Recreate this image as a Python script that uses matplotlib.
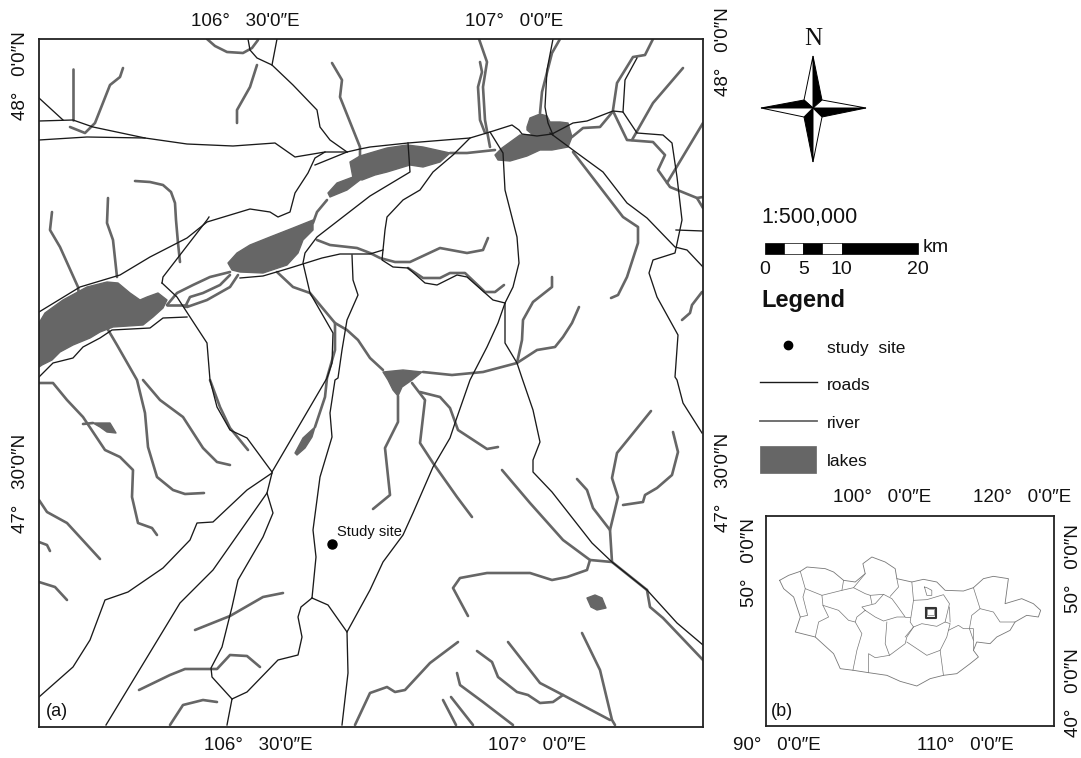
import matplotlib
matplotlib.use("Agg")
import matplotlib.pyplot as plt
from matplotlib.patches import Polygon, Rectangle

plt.rcParams['font.family'] = ['Liberation Sans', 'DejaVu Sans']

roads = [
    [(248, 39), (250, 50), (257, 58), (272, 65), (293, 85), (317, 110), (320, 127), (330, 140), (347, 152)],
    [(277, 39), (272, 65)],
    [(39, 98), (63, 120)],
    [(39, 121), (73, 120), (93, 127), (145, 138), (187, 144), (233, 146), (275, 143), (295, 157), (325, 152),
     (347, 152), (360, 149), (370, 147), (408, 143), (470, 138), (490, 132), (512, 125), (519, 130), (522, 134),
     (537, 136), (552, 134), (573, 123), (587, 121), (613, 111), (623, 112), (637, 133), (663, 135), (672, 143),
     (677, 177), (682, 220), (675, 253), (653, 260), (649, 273), (657, 297), (678, 335), (675, 377), (677, 380),
     (683, 403), (702, 433)],
    [(39, 140), (87, 137), (145, 138)],
    [(550, 133), (577, 153), (603, 172), (627, 203), (647, 218), (675, 247), (687, 250), (703, 267)],
    [(553, 39), (547, 70), (545, 107), (548, 123), (553, 135)],
    [(490, 132), (503, 153), (505, 190), (517, 237), (519, 263), (513, 287), (505, 303), (505, 343), (517, 363),
     (522, 378), (533, 410), (540, 442), (533, 460), (533, 472), (552, 492), (592, 543), (612, 562), (647, 590),
     (677, 623), (703, 645)],
    [(408, 143), (410, 172), (370, 196), (317, 237), (305, 253), (303, 263), (310, 293), (333, 333), (332, 363),
     (327, 378), (272, 472)],
    [(352, 255), (353, 280), (358, 295), (347, 320), (342, 350), (338, 378), (335, 380), (330, 413), (332, 437),
     (320, 477), (313, 530), (316, 557), (312, 598)],
    [(240, 278), (263, 276), (290, 268), (322, 258), (340, 254), (370, 254), (383, 250), (385, 230), (387, 217),
     (403, 200), (420, 190), (433, 172), (453, 155), (470, 138)],
    [(383, 250), (382, 260), (393, 267), (408, 268), (425, 283), (437, 285), (457, 275), (467, 277), (493, 300),
     (505, 303)],
    [(505, 303), (498, 323), (487, 347), (470, 380), (455, 423), (450, 438), (433, 467), (413, 513), (403, 535),
     (383, 562), (370, 590), (347, 632)],
    [(312, 598), (328, 605), (347, 632), (348, 673), (342, 725)],
    [(312, 598), (301, 607), (298, 617), (302, 637), (298, 655), (278, 660), (247, 692), (232, 699)],
    [(232, 699), (212, 677), (211, 668), (222, 647), (232, 607), (238, 580), (263, 537), (273, 513), (267, 493),
     (272, 473)],
    [(232, 699), (227, 725)],
    [(106, 725), (180, 603), (213, 570), (267, 493)],
    [(39, 697), (73, 667), (90, 640), (105, 600), (128, 592), (163, 568), (190, 540), (197, 523), (213, 522),
     (247, 490), (272, 473)],
    [(39, 377), (53, 363), (73, 358), (83, 347), (100, 338), (112, 330), (150, 328), (163, 318), (187, 317)],
    [(162, 283), (177, 297), (190, 317), (207, 343), (210, 380), (217, 407), (230, 430), (247, 438), (272, 472)],
    [(162, 283), (163, 277), (207, 220), (209, 217)],
    [(39, 312), (80, 287), (120, 275), (150, 257), (187, 238), (207, 222), (250, 209), (270, 212), (278, 217),
     (290, 212), (295, 193), (308, 173), (315, 158), (325, 152)],
    [(315, 165), (347, 152)],
    [(676, 230), (703, 231)],
    [(637, 58), (625, 80), (623, 112)],
]

rivers = [
    [(73, 69), (73, 120)],
    [(123, 68), (120, 77), (110, 85), (95, 123), (85, 133), (70, 127)],
    [(207, 39), (215, 46), (227, 52), (243, 53), (252, 48), (258, 40)],
    [(257, 65), (250, 87), (237, 110), (237, 123)],
    [(332, 63), (342, 80), (340, 97), (360, 147), (360, 157)],
    [(135, 181), (150, 182), (163, 185), (171, 192), (175, 203), (176, 220), (178, 243), (180, 262)],
    [(108, 198), (107, 223), (113, 240), (117, 277)],
    [(52, 212), (50, 230), (60, 247), (78, 287), (79, 295)],
    [(107, 328), (117, 345), (133, 373), (137, 380), (145, 413), (148, 447), (157, 477), (173, 490), (185, 494),
     (204, 493)],
    [(143, 380), (160, 400), (183, 417), (203, 448), (217, 462), (230, 465)],
    [(167, 305), (177, 293), (193, 285), (210, 277), (230, 272)],
    [(185, 307), (190, 297), (203, 293), (220, 285), (230, 275)],
    [(187, 307), (207, 300), (230, 287), (238, 275)],
    [(167, 305), (187, 305)],
    [(313, 223), (317, 212), (327, 200)],
    [(277, 272), (293, 287), (310, 293), (335, 323), (347, 330), (358, 340), (370, 358), (383, 370)],
    [(335, 323), (335, 350), (327, 378), (325, 397), (315, 427)],
    [(317, 240), (330, 245), (357, 248), (370, 253), (380, 258), (395, 262), (410, 262), (440, 248), (467, 253),
     (483, 250), (488, 238)],
    [(408, 268), (423, 278), (440, 278), (450, 273), (465, 273), (485, 292), (495, 292), (504, 285)],
    [(450, 153), (467, 153), (495, 150)],
    [(479, 39), (487, 62), (483, 87), (485, 120), (490, 147)],
    [(480, 62), (482, 72), (478, 87), (480, 120), (485, 133)],
    [(560, 39), (552, 53), (542, 92), (540, 113)],
    [(572, 137), (583, 128), (600, 127), (610, 115), (613, 111), (627, 140), (653, 142), (665, 155), (658, 170),
     (670, 187), (697, 198), (703, 197)],
    [(653, 39), (645, 55), (633, 57), (617, 83), (613, 110)],
    [(683, 68), (653, 103), (632, 140)],
    [(703, 123), (667, 183)],
    [(697, 198), (703, 208)],
    [(573, 152), (623, 217), (638, 227), (638, 243), (627, 277), (618, 295), (611, 298)],
    [(552, 277), (552, 287), (533, 302), (523, 320), (522, 340), (517, 363)],
    [(579, 307), (572, 323), (563, 337), (555, 347), (537, 350), (517, 363), (483, 372), (452, 375), (423, 372)],
    [(702, 292), (692, 305), (690, 313), (682, 320)],
    [(39, 383), (53, 383), (67, 400), (83, 417), (105, 450), (120, 457), (133, 470), (132, 497), (138, 523),
     (152, 528), (157, 535)],
    [(39, 500), (47, 512), (67, 523), (100, 559)],
    [(39, 542), (47, 545), (50, 551)],
    [(39, 582), (55, 587), (67, 600)],
    [(210, 380), (220, 407), (230, 428), (248, 450)],
    [(93, 423), (83, 424)],
    [(195, 630), (230, 616), (263, 597), (283, 593)],
    [(139, 690), (170, 675), (185, 669), (217, 669), (230, 655), (247, 656), (260, 667)],
    [(170, 725), (183, 705), (203, 700), (217, 702)],
    [(355, 725), (370, 693), (387, 687), (395, 692), (405, 690), (430, 663), (458, 642)],
    [(398, 396), (398, 422), (385, 448), (390, 495), (373, 509)],
    [(412, 383), (425, 400), (420, 443), (433, 463), (457, 497), (472, 517)],
    [(420, 392), (440, 397), (450, 408), (458, 430), (487, 449), (498, 447)],
    [(502, 470), (530, 503), (563, 540), (590, 560), (612, 562), (647, 590)],
    [(590, 560), (587, 570), (567, 577), (552, 580), (530, 573), (487, 573), (460, 578), (453, 588), (468, 616)],
    [(612, 562), (610, 530), (618, 497), (612, 478), (617, 453), (630, 437), (651, 411)],
    [(610, 530), (593, 508), (587, 490), (577, 479)],
    [(673, 432), (678, 452), (672, 475), (657, 488), (645, 495), (643, 502), (623, 505)],
    [(647, 590), (650, 607), (663, 618), (703, 660)],
    [(582, 633), (600, 670), (612, 720), (615, 725)],
    [(508, 642), (540, 683), (563, 695), (610, 720)],
    [(477, 651), (492, 662), (498, 677), (517, 692), (528, 695), (540, 703), (553, 702), (563, 695)],
    [(457, 673), (460, 685), (483, 702), (513, 725)],
    [(451, 697), (473, 725)],
    [(443, 700), (456, 725)],
]

lakes = [
    [(39, 323), (45, 313), (63, 300), (87, 287), (107, 282), (118, 283), (130, 293), (140, 300), (147, 297),
     (158, 293), (167, 300), (163, 308), (153, 317), (143, 325), (113, 327), (100, 332), (90, 338), (73, 345),
     (60, 352), (52, 360), (42, 365), (39, 367)],
    [(228, 263), (237, 253), (250, 245), (270, 237), (293, 228), (313, 220), (313, 230), (303, 240), (298, 253),
     (287, 265), (263, 273), (240, 272), (232, 270)],
    [(350, 162), (360, 156), (370, 153), (387, 148), (407, 145), (423, 147), (450, 153), (440, 162), (423, 167),
     (410, 165), (387, 172), (375, 175), (362, 180), (353, 178)],
    [(328, 193), (337, 183), (353, 177), (360, 180), (347, 190), (330, 197)],
    [(527, 127), (530, 118), (540, 114), (547, 116), (550, 122), (560, 122), (568, 123), (572, 137), (568, 147),
     (552, 150), (540, 150), (527, 156), (510, 161), (498, 160), (495, 155), (502, 148), (520, 135), (533, 135),
     (527, 130)],
    [(383, 372), (403, 370), (422, 372), (412, 380), (402, 387), (398, 396), (393, 390), (388, 380)],
    [(93, 423), (110, 423), (116, 433), (107, 432), (100, 427)],
    [(295, 453), (303, 438), (315, 427), (312, 437), (305, 448), (297, 455)],
    [(587, 598), (595, 595), (602, 598), (606, 608), (597, 610), (591, 607)],
]

study_site = (332, 544)

# Inset map of Mongolia, traced in its own units
mongolia_outline = [
    (88, 240), (115, 225), (150, 213), (170, 200), (225, 205), (250, 215), (280, 240), (315, 245), (345, 220),
    (338, 190), (365, 170), (405, 185), (435, 205), (440, 235), (485, 245), (520, 237), (560, 245), (585, 270),
    (640, 272), (670, 262), (700, 235), (730, 228), (775, 235), (765, 310), (815, 295), (850, 310), (872, 330),
    (865, 350), (830, 345), (795, 365), (780, 390), (740, 410), (720, 430), (680, 425), (670, 450), (685, 470),
    (660, 490), (620, 520), (580, 525), (540, 535), (500, 557), (450, 543), (410, 525), (355, 517), (310, 510),
    (270, 505), (250, 460), (195, 410), (135, 395), (150, 350), (130, 290), (100, 265), (88, 240),
]
province_lines = [
    [(150, 213), (165, 265), (158, 290), (172, 345), (150, 350)],
    [(165, 265), (215, 285), (275, 270), (280, 240)],
    [(215, 285), (218, 315), (235, 350), (205, 365), (195, 410)],
    [(218, 315), (265, 330), (295, 360), (315, 365), (335, 400), (320, 450), (308, 510)],
    [(315, 365), (320, 350), (345, 330), (335, 320), (375, 310), (400, 282), (425, 295), (440, 315), (465, 350),
     (440, 350), (400, 362), (375, 350), (345, 330)],
    [(275, 270), (310, 262), (345, 280), (360, 285), (365, 310)],
    [(310, 262), (345, 220)],
    [(360, 285), (400, 282)],
    [(420, 288), (445, 260), (440, 235)],
    [(485, 245), (490, 300), (480, 365), (490, 380), (465, 410)],
    [(465, 350), (480, 350)],
    [(410, 365), (405, 430), (418, 465), (465, 430), (470, 410), (490, 380)],
    [(355, 517), (355, 460), (375, 472), (418, 465)],
    [(490, 300), (530, 298), (580, 283), (598, 310), (585, 365)],
    [(490, 380), (515, 370), (560, 378), (585, 365), (600, 370), (595, 390)],
    [(470, 425), (530, 465), (570, 450), (590, 410), (595, 390)],
    [(570, 450), (580, 525)],
    [(595, 390), (625, 375), (640, 385), (670, 385), (670, 420), (670, 450)],
    [(598, 320), (600, 365)],
    [(670, 262), (690, 325), (665, 345), (658, 385), (670, 420)],
    [(690, 325), (730, 335), (750, 365), (795, 365)],
    [(523, 260), (530, 285), (545, 285), (545, 270), (530, 262), (523, 260)],
    [(532, 325), (553, 325), (553, 345), (532, 345), (532, 325)],
]
study_box = [(527, 322), (557, 322), (557, 353), (527, 353), (527, 322)]

# Scale bar breaks in km, and the legend names
scale_km = [0, 2.5, 5, 7.5, 10, 20]
scale_labels = ["0", "5", "10", "20"]
legend_names = ["study  site", "roads", "river", "lakes"]

ROAD = "#1a1a1a"
RIVER = "#666666"
FRAME = "#222222"

W, H = 1081, 758
fig = plt.figure(figsize=(W / 100, H / 100), dpi=100)


def axes_at(left, top, right, bottom):
    return fig.add_axes([left / W, 1 - bottom / H, (right - left) / W, (bottom - top) / H])


# Main map
ax = axes_at(39.5, 38.5, 703, 727)
ax.set_xlim(39.5, 703)
ax.set_ylim(727, 38.5)
ax.set_xticks([])
ax.set_yticks([])
for s in ax.spines.values():
    s.set_linewidth(1.3)
    s.set_color(FRAME)
for lake in lakes:
    ax.add_patch(Polygon(lake, closed=True, facecolor=RIVER, edgecolor=RIVER, linewidth=1.0, joinstyle="round"))
for r in rivers:
    ax.plot([p[0] for p in r], [p[1] for p in r], color=RIVER, lw=1.9, solid_joinstyle="round", solid_capstyle="round")
for r in roads:
    ax.plot([p[0] for p in r], [p[1] for p in r], color=ROAD, lw=0.95, solid_joinstyle="round")
ax.plot(study_site[0], study_site[1], "o", color="black", ms=6.5)
ax.text(337, 532, "Study site", fontsize=10.5, va="center", color="#111111")
ax.text(46, 712, "(a)", fontsize=13, va="center", color="#111111")

# Inset map
ins = axes_at(766, 516, 1054, 726)
ins.set_xlim(47, 912)
ins.set_ylim(677, 47)
ins.set_xticks([])
ins.set_yticks([])
for s in ins.spines.values():
    s.set_linewidth(1.3)
    s.set_color(FRAME)
ins.plot([p[0] for p in mongolia_outline], [p[1] for p in mongolia_outline], color="#777777", lw=0.6)
for r in province_lines:
    ins.plot([p[0] for p in r], [p[1] for p in r], color="#777777", lw=0.5)
ins.plot([p[0] for p in study_box], [p[1] for p in study_box], color="#333333", lw=1.5)
ins.text(62, 635, "(b)", fontsize=13, va="center", color="#111111")

# Overlay in figure pixels for the labels, compass, scale and legend
top = fig.add_axes([0, 0, 1, 1], facecolor="none")
top.set_xlim(0, W)
top.set_ylim(H, 0)
top.axis("off")

LABEL = 13.5
for x, y, s in [(245, 21, "106°   30'0″E"), (514, 21, "107°   0'0″E"),
                (258, 745, "106°   30'0″E"), (537, 745, "107°   0'0″E"),
                (882, 498, "100°   0'0″E"), (1022, 498, "120°   0'0″E"),
                (777, 746, "90°   0'0″E"), (965, 746, "110°   0'0″E")]:
    top.text(x, y, s, fontsize=LABEL, ha="center", va="center", color="#111111")
for x, y, s in [(21, 76, "48°   0'0″N"), (21, 483, "47°   30'0″N"),
                (724, 52, "48°   0'0″N"), (724, 482, "47°   30'0″N"),
                (749, 563, "50°   0'0″N"),
                (1073, 569, "50°   0'0″N"), (1073, 693, "40°   0'0″N")]:
    top.text(x, y, s, fontsize=LABEL, ha="center", va="center", rotation=90, color="#111111")

# Compass
cx, cy = 813, 108
n_tip, s_tip, w_tip, e_tip = (813, 56), (813, 162), (761, 108), (866, 108)
ne, nw, se, sw = (822, 100), (804, 100), (822, 117), (804, 117)
for a, b, col in [(n_tip, ne, "black"), (n_tip, nw, "white"), (e_tip, se, "black"), (e_tip, ne, "white"),
                  (s_tip, sw, "black"), (s_tip, se, "white"), (w_tip, nw, "black"), (w_tip, sw, "white")]:
    top.add_patch(Polygon([a, b, (cx, cy)], closed=True, facecolor=col, edgecolor="black", linewidth=0.7))
top.text(813, 39, "N", fontsize=18, ha="center", va="center", family="Liberation Serif", color="#111111")

# Scale bar: 0 to 20 km covers 765 to 918 px
bar_x = lambda km: 765 + km * (918 - 765) / 20
for i in range(len(scale_km) - 1):
    col = "black" if i % 2 == 0 else "white"
    top.add_patch(Rectangle((bar_x(scale_km[i]), 243), bar_x(scale_km[i + 1]) - bar_x(scale_km[i]), 11,
                            facecolor=col, edgecolor="black", linewidth=0.5))
top.text(761, 217, "1:500,000", fontsize=15.5, va="center", color="#111111")
top.text(923, 248, "km", fontsize=14, va="center", color="#111111")
for km, lab in zip([0, 5, 10, 20], scale_labels):
    top.text(bar_x(km), 270, lab, fontsize=14, ha="center", va="center", color="#111111")
top.text(761, 301, "Legend", fontsize=17, fontweight="bold", va="center", color="#111111")

# Legend entries
top.plot(788, 345, "o", color="black", ms=6)
top.plot([760, 817], [382, 382], color=ROAD, lw=1.0)
top.plot([760, 817], [421, 421], color=RIVER, lw=1.3)
top.add_patch(Rectangle((760, 446), 56, 27, facecolor=RIVER, edgecolor=RIVER, linewidth=0.5))
for y, name in zip([348, 385, 424, 462], legend_names):
    top.text(827, y, name, fontsize=12.5, va="center", color="#111111")

fig.savefig("out.png", dpi=100)
